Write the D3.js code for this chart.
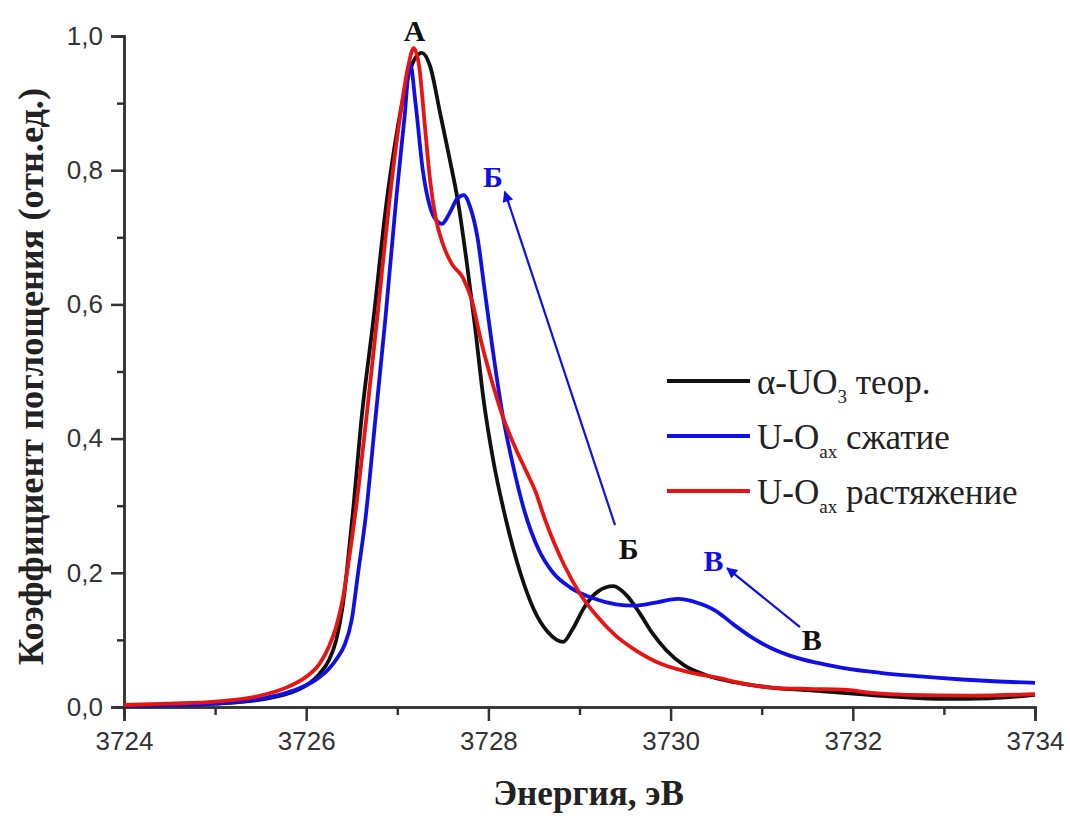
<!DOCTYPE html>
<html>
<head>
<meta charset="utf-8">
<script src="https://cdn.jsdelivr.net/npm/d3@7"></script>
<style>
  body { margin: 0; background: #fff; }
  svg { display: block; }
</style>
</head>
<body>
<div id="chart"></div>
<script>
// values
const energyBlack = [3724.0, 3724.5, 3725.0, 3725.5, 3725.8, 3726.0, 3726.15, 3726.25, 3726.33, 3726.4, 3726.46, 3726.52, 3726.6, 3726.74, 3726.88, 3727.0, 3727.1, 3727.2, 3727.27, 3727.36, 3727.47, 3727.57, 3727.67, 3727.76, 3727.85, 3727.95, 3728.05, 3728.2, 3728.35, 3728.5, 3728.65, 3728.75, 3728.82, 3728.92, 3729.05, 3729.2, 3729.37, 3729.52, 3729.66, 3729.8, 3729.95, 3730.15, 3730.4, 3730.7, 3731.1, 3731.5, 3732.0, 3732.5, 3733.0, 3733.5, 3734.0]
const absBlack = [0.002, 0.003, 0.005, 0.011, 0.02, 0.032, 0.05, 0.07, 0.1, 0.15, 0.22, 0.3, 0.42, 0.58, 0.75, 0.86, 0.93, 0.968, 0.975, 0.955, 0.885, 0.82, 0.75, 0.665, 0.57, 0.455, 0.37, 0.275, 0.2, 0.145, 0.112, 0.1, 0.097, 0.115, 0.148, 0.172, 0.18, 0.166, 0.14, 0.11, 0.085, 0.062, 0.047, 0.037, 0.029, 0.025, 0.02, 0.015, 0.012, 0.013, 0.018]

const energyBlue = [3724.0, 3724.5, 3725.0, 3725.5, 3725.85, 3726.1, 3726.25, 3726.35, 3726.42, 3726.5, 3726.57, 3726.65, 3726.76, 3726.87, 3726.99, 3727.08, 3727.14, 3727.2, 3727.28, 3727.36, 3727.43, 3727.49, 3727.57, 3727.66, 3727.73, 3727.8, 3727.88, 3727.96, 3728.05, 3728.15, 3728.27, 3728.4, 3728.55, 3728.71, 3728.9, 3729.15, 3729.4, 3729.6, 3729.85, 3730.08, 3730.3, 3730.5, 3730.7, 3730.9, 3731.1, 3731.3, 3731.6, 3731.9, 3732.3, 3732.7, 3733.2, 3733.6, 3734.0]
const absBlue = [0.002, 0.003, 0.005, 0.012, 0.024, 0.04, 0.057, 0.075, 0.092, 0.13, 0.2, 0.28, 0.43, 0.58, 0.76, 0.88, 0.96, 0.9, 0.8, 0.745, 0.725, 0.72, 0.735, 0.758, 0.763, 0.745, 0.7, 0.62, 0.53, 0.44, 0.36, 0.29, 0.235, 0.2, 0.178, 0.162, 0.153, 0.151, 0.156, 0.161, 0.155, 0.143, 0.122, 0.103, 0.088, 0.077, 0.066, 0.058, 0.051, 0.046, 0.041, 0.038, 0.036]

const energyRed = [3724.0, 3724.5, 3725.0, 3725.5, 3725.8, 3726.0, 3726.15, 3726.25, 3726.33, 3726.4, 3726.47, 3726.55, 3726.66, 3726.78, 3726.91, 3727.03, 3727.12, 3727.18, 3727.24, 3727.3, 3727.36, 3727.42, 3727.5, 3727.6, 3727.72, 3727.82, 3727.92, 3728.05, 3728.16, 3728.3, 3728.42, 3728.52, 3728.62, 3728.72, 3728.83, 3729.0, 3729.2, 3729.4, 3729.6, 3729.9, 3730.2, 3730.5, 3730.8, 3731.1, 3731.5, 3731.9, 3732.2, 3732.6, 3733.3, 3734.0]
const absRed = [0.003, 0.005, 0.008, 0.017, 0.03, 0.045, 0.065, 0.09, 0.12, 0.16, 0.22, 0.3, 0.43, 0.58, 0.75, 0.88, 0.955, 0.982, 0.955, 0.87, 0.785, 0.73, 0.69, 0.66, 0.64, 0.605, 0.545, 0.48, 0.432, 0.385, 0.35, 0.32, 0.28, 0.245, 0.212, 0.17, 0.134, 0.106, 0.086, 0.064, 0.052, 0.044, 0.035, 0.029, 0.027, 0.026, 0.021, 0.018, 0.017, 0.019]

// legend names split as [main, subscript, rest]
const seriesNames = [["α-UO", "3", " теор."], ["U-O", "ax", " сжатие"], ["U-O", "ax", " растяжение"]]
const xMajorTicks = [3724, 3726, 3728, 3730, 3732, 3734]
const xMinorTicks = [3725, 3727, 3729, 3731, 3733]
const yMajorTicks = [0, 0.2, 0.4, 0.6, 0.8, 1.0]
const yMinorTicks = [0.1, 0.3, 0.5, 0.7, 0.9]

// peak letters and arrows, in data units
const labelTexts = ["А", "Б", "Б", "В", "В"]
const labelEnergy = [3727.19, 3728.05, 3729.54, 3730.47, 3731.55]
const labelValue = [0.993, 0.775, 0.22, 0.202, 0.085]
const labelBlue = [false, true, false, true, false]
const arrowFrom = [[3729.39, 0.271], [3731.42, 0.119]]
const arrowTo = [[3728.18, 0.768], [3730.62, 0.207]]

const width = 1070
const height = 816
const margin = {top: 36, right: 35, bottom: 109, left: 124}
const innerWidth = width - margin.left - margin.right
const innerHeight = height - margin.top - margin.bottom
const axisColor = "#333"
const colors = ["#111111", "#1010e6", "#e81414"]
const serif = "'Liberation Serif', 'Times New Roman', serif"
const sans = "'Liberation Sans', Arial, sans-serif"

const svg = d3.select('#chart').append("svg")
  .attr("width", width)
  .attr("height", height)
const g = svg.append("g")
  .attr("transform", "translate(" + margin.left + "," + margin.top + ")")

const xScale = d3.scaleLinear().domain([3724, 3734]).range([0, innerWidth])
const yScale = d3.scaleLinear().domain([0, 1]).range([innerHeight, 0])

// minor ticks, no labels
g.append("g").attr("transform", "translate(0," + innerHeight + ")")
  .call(d3.axisBottom(xScale).tickValues(xMinorTicks).tickSize(8))
  .selectAll("text").remove()
g.append("g")
  .call(d3.axisLeft(yScale).tickValues(yMinorTicks).tickSize(7))
  .selectAll("text").remove()

// major ticks with labels
g.append("g").attr("transform", "translate(0," + innerHeight + ")")
  .attr("class", "major")
  .call(d3.axisBottom(xScale).tickValues(xMajorTicks).tickSize(14).tickPadding(11).tickFormat(d3.format("d")))
g.append("g")
  .attr("class", "major")
  .call(d3.axisLeft(yScale).tickValues(yMajorTicks).tickSize(13).tickPadding(8)
    .tickFormat(d => d.toFixed(1).replace(".", ",")))
g.selectAll(".major").attr("font-size", 26).attr("font-family", sans)

g.selectAll(".domain, .tick line")
  .attr("stroke", axisColor)
  .attr("stroke-width", 2.5)
g.selectAll(".tick text").attr("fill", axisColor)

// curves
const line = d3.line()
  .x(d => xScale(d[0]))
  .y(d => yScale(d[1]))
  .curve(d3.curveMonotoneX)

const series = [
  d3.zip(energyBlack, absBlack),
  d3.zip(energyBlue, absBlue),
  d3.zip(energyRed, absRed)
]
// black first, then blue, red on top
series.forEach((s, i) => {
  g.append("path")
    .datum(s)
    .attr("fill", "none")
    .attr("stroke", colors[i])
    .attr("stroke-width", 3.8)
    .attr("stroke-linejoin", "round")
    .attr("d", line)
})

// arrows
svg.append("defs").append("marker")
  .attr("id", "head")
  .attr("viewBox", "0 0 10 10")
  .attr("refX", 9).attr("refY", 5)
  .attr("markerWidth", 6).attr("markerHeight", 5)
  .attr("markerUnits", "strokeWidth")
  .attr("orient", "auto")
  .append("path")
  .attr("d", "M0,0 L10,5 L0,10 z")
  .attr("fill", colors[1])

arrowFrom.forEach((p, i) => {
  g.append("line")
    .attr("x1", xScale(p[0])).attr("y1", yScale(p[1]))
    .attr("x2", xScale(arrowTo[i][0])).attr("y2", yScale(arrowTo[i][1]))
    .attr("stroke", colors[1])
    .attr("stroke-width", 2.2)
    .attr("marker-end", "url(#head)")
})

// peak letters
labelTexts.forEach((t, i) => {
  g.append("text")
    .attr("x", xScale(labelEnergy[i]))
    .attr("y", yScale(labelValue[i]))
    .attr("text-anchor", "middle")
    .attr("fill", labelBlue[i] ? colors[1] : "#111")
    .attr("font-family", serif)
    .attr("font-weight", "bold")
    .attr("font-size", 30)
    .text(t)
})

// legend, each part its own text so the subscript can sit lower
const legend = svg.append("g").attr("transform", "translate(667,381)")
seriesNames.forEach((parts, i) => {
  const row = legend.append("g").attr("transform", "translate(0," + (i * 55) + ")")
  row.append("line")
    .attr("x1", 0).attr("x2", 83)
    .attr("stroke", colors[i])
    .attr("stroke-width", 3.8)
  let x = 90
  parts.forEach((p, k) => {
    const t = row.append("text")
      .attr("x", x)
      .attr("y", k === 1 ? 22 : 13)
      .attr("fill", "#222")
      .attr("font-family", serif)
      .attr("font-size", k === 1 ? 19 : 35)
      .attr("xml:space", "preserve")
      .style("white-space", "pre")
      .text(p)
    x += t.node().getComputedTextLength()
  })
})

// axis titles, font size fitted to the width seen in the picture
function fitText(sel, target, size) {
  const w = sel.node().getComputedTextLength()
  sel.attr("font-size", size * target / w)
}

const yTitle = svg.append("text")
  .attr("transform", "translate(43," + (margin.top + innerHeight / 2 + 5) + ") rotate(-90)")
  .attr("text-anchor", "middle")
  .attr("fill", "#222")
  .attr("font-family", serif)
  .attr("font-weight", "bold")
  .attr("font-size", 34)
  .text("Коэффициент поглощения (отн.ед.)")
fitText(yTitle, 577, 34)

const xTitle = svg.append("text")
  .attr("x", margin.left + xScale(3729.1))
  .attr("y", 805)
  .attr("text-anchor", "middle")
  .attr("fill", "#222")
  .attr("font-family", serif)
  .attr("font-weight", "bold")
  .attr("font-size", 34)
  .text("Энергия, эВ")
fitText(xTitle, 191, 34)
</script>
</body>
</html>
